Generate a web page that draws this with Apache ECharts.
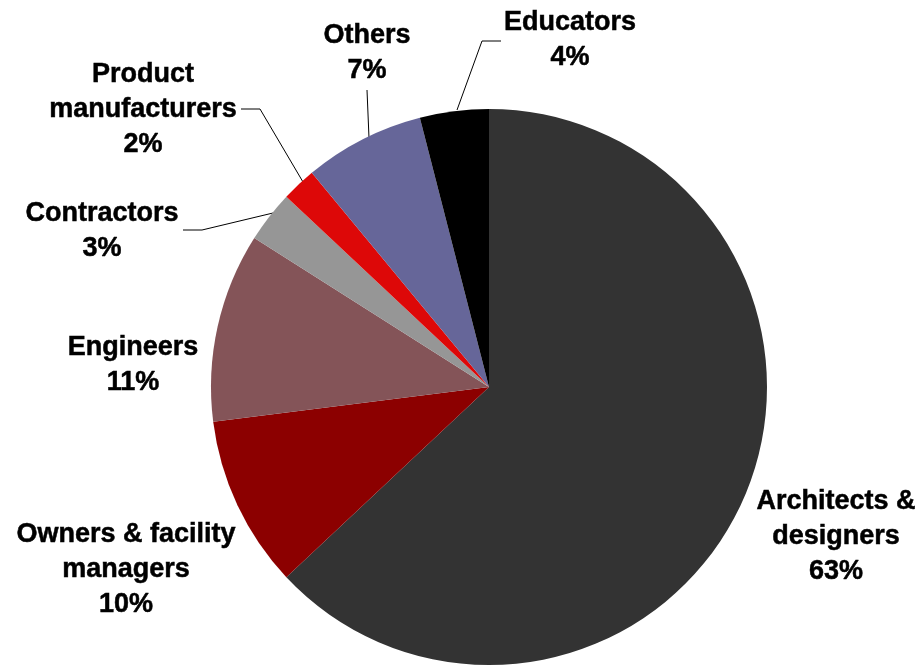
<!DOCTYPE html>
<html>
<head>
<meta charset="utf-8">
<script src="https://cdn.jsdelivr.net/npm/echarts@6/dist/echarts.min.js"></script>
<style>
  html, body { margin: 0; padding: 0; background: #ffffff; }
  #chart { width: 919px; height: 666px; }
</style>
</head>
<body>
<div id="chart"></div>
<script>
// Share of respondents by profession (percent), clockwise from 12 o'clock
const categories = [
  'Architects &\ndesigners',
  'Owners & facility\nmanagers',
  'Engineers',
  'Contractors',
  'Product\nmanufacturers',
  'Others',
  'Educators'
];
const shares = [63, 10, 11, 3, 2, 7, 4];
const sliceColors = ['#333333', '#8c0000', '#845458', '#969696', '#dd0808', '#666699', '#000000'];

// Label block centres and optional leader-line paths (pixels)
const labelSpots = [
  { x: 836, y: 537 },
  { x: 126, y: 570 },
  { x: 133, y: 365 },
  { x: 102, y: 231, line: [[183, 230], [202, 230], [273, 213]] },
  { x: 143, y: 110, line: [[241, 109], [260, 109], [303, 182]] },
  { x: 367, y: 53,  line: [[367, 90], [369, 138]] },
  { x: 570, y: 40,  line: [[501, 41], [482, 41], [457, 110]] }
];

const chart = echarts.init(document.getElementById('chart'), null, { renderer: 'canvas' });

chart.setOption({
  backgroundColor: '#ffffff',
  animation: false,
  series: [{
    type: 'pie',
    center: [489, 387],
    radius: [0, 278],
    startAngle: 90,
    clockwise: true,
    avoidLabelOverlap: false,
    data: categories.map((name, i) => ({
      name: name,
      value: shares[i],
      itemStyle: { color: sliceColors[i] },
      labelLine: { show: !!labelSpots[i].line }
    })),
    itemStyle: { borderWidth: 0 },
    emphasis: { disabled: true },
    label: {
      show: true,
      position: 'outside',
      formatter: '{b}\n{c}%',
      fontFamily: '"Liberation Sans", Arial, sans-serif',
      fontWeight: 'bold',
      fontSize: 27,
      lineHeight: 35,
      color: '#000000',
      textBorderColor: '#000000',
      textBorderWidth: 0.5,
      align: 'center'
    },
    labelLine: {
      show: true,
      lineStyle: { color: '#000000', width: 1 }
    },
    labelLayout: function (params) {
      const spot = labelSpots[params.dataIndex];
      const out = {
        x: spot.x,
        y: spot.y,
        align: 'center',
        verticalAlign: 'middle'
      };
      if (spot.line) out.labelLinePoints = spot.line;
      return out;
    }
  }]
});
</script>
</body>
</html>
